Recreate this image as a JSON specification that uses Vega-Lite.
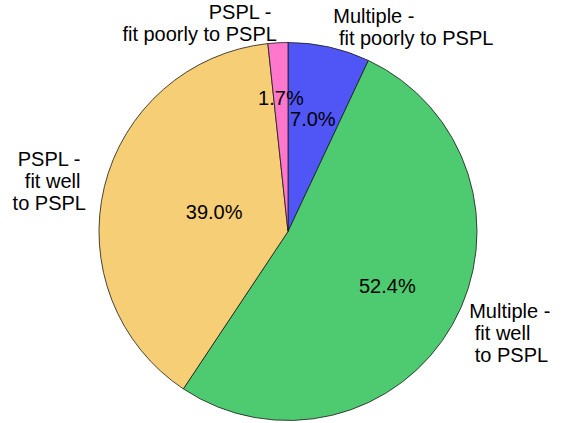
{
  "$schema": "https://vega.github.io/schema/vega-lite/v6.json",
  "width": 560,
  "height": 383,
  "autosize": "none",
  "padding": {"left": 8, "top": 40, "right": 0, "bottom": 0},
  "background": "white",
  "view": {"stroke": null},
  "data": {
    "values": [
      {"idx": 1, "cat": "Multiple - fit poorly to PSPL", "label": "Multiple -\n\u200b\u00a0fit poorly to PSPL", "share": 0.070},
      {"idx": 2, "cat": "Multiple - fit well to PSPL", "label": "Multiple -\n\u200b\u00a0fit well\n\u200b\u00a0to PSPL", "share": 0.524},
      {"idx": 3, "cat": "PSPL - fit well to PSPL", "label": "PSPL -\u00a0\u200b\nfit well\u00a0\u200b\nto PSPL", "share": 0.390},
      {"idx": 4, "cat": "PSPL - fit poorly to PSPL", "label": "PSPL -\u00a0\u200b\nfit poorly to PSPL", "share": 0.017}
    ]
  },
  "encoding": {
    "theta": {"field": "share", "type": "quantitative", "stack": true},
    "order": {"field": "idx", "type": "quantitative"},
    "detail": {"field": "cat", "type": "nominal"}
  },
  "layer": [
    {
      "mark": {"type": "arc", "outerRadius": 189, "stroke": "#1a1a1a", "strokeWidth": 0.8},
      "encoding": {
        "color": {
          "field": "cat",
          "type": "nominal",
          "scale": {
            "domain": ["Multiple - fit poorly to PSPL", "Multiple - fit well to PSPL", "PSPL - fit well to PSPL", "PSPL - fit poorly to PSPL"],
            "range": ["#5056F5", "#4ECB71", "#F5CE75", "#FF77CC"]
          },
          "legend": null
        }
      }
    },
    {
      "mark": {"type": "text", "radius": 208, "align": "left", "baseline": "middle", "dy": -11, "lineBreak": "\n", "fontSize": 20, "font": "Liberation Sans", "lineHeight": 22, "color": "black"},
      "encoding": {
        "text": {"condition": {"test": "datum.cat === 'Multiple - fit poorly to PSPL'", "field": "label", "type": "nominal"}, "value": ""}
      }
    },
    {
      "mark": {"type": "text", "radius": 208, "align": "left", "baseline": "middle", "dy": -22, "lineBreak": "\n", "fontSize": 20, "font": "Liberation Sans", "lineHeight": 22, "color": "black"},
      "encoding": {
        "text": {"condition": {"test": "datum.cat === 'Multiple - fit well to PSPL'", "field": "label", "type": "nominal"}, "value": ""}
      }
    },
    {
      "mark": {"type": "text", "radius": 208, "align": "right", "baseline": "middle", "dy": -22, "lineBreak": "\n", "fontSize": 20, "font": "Liberation Sans", "lineHeight": 22, "color": "black"},
      "encoding": {
        "text": {"condition": {"test": "datum.cat === 'PSPL - fit well to PSPL'", "field": "label", "type": "nominal"}, "value": ""}
      }
    },
    {
      "mark": {"type": "text", "radius": 208, "align": "right", "baseline": "middle", "dy": -11, "lineBreak": "\n", "fontSize": 20, "font": "Liberation Sans", "lineHeight": 22, "color": "black"},
      "encoding": {
        "text": {"condition": {"test": "datum.cat === 'PSPL - fit poorly to PSPL'", "field": "label", "type": "nominal"}, "value": ""}
      }
    },
    {
      "mark": {"type": "text", "radius": 114, "align": "center", "baseline": "middle", "fontSize": 20, "font": "Liberation Sans", "color": "black"},
      "encoding": {
        "text": {"condition": {"test": "indexof(datum.cat, 'Multiple') === 0", "field": "share", "type": "quantitative", "format": ".1%"}, "value": ""}
      }
    },
    {
      "mark": {"type": "text", "radius": 76, "align": "center", "baseline": "middle", "fontSize": 20, "font": "Liberation Sans", "color": "black"},
      "encoding": {
        "text": {"condition": {"test": "datum.cat === 'PSPL - fit well to PSPL'", "field": "share", "type": "quantitative", "format": ".1%"}, "value": ""}
      }
    },
    {
      "mark": {"type": "text", "radius": 133, "align": "center", "baseline": "middle", "fontSize": 20, "font": "Liberation Sans", "color": "black"},
      "encoding": {
        "text": {"condition": {"test": "datum.cat === 'PSPL - fit poorly to PSPL'", "field": "share", "type": "quantitative", "format": ".1%"}, "value": ""}
      }
    }
  ]
}
